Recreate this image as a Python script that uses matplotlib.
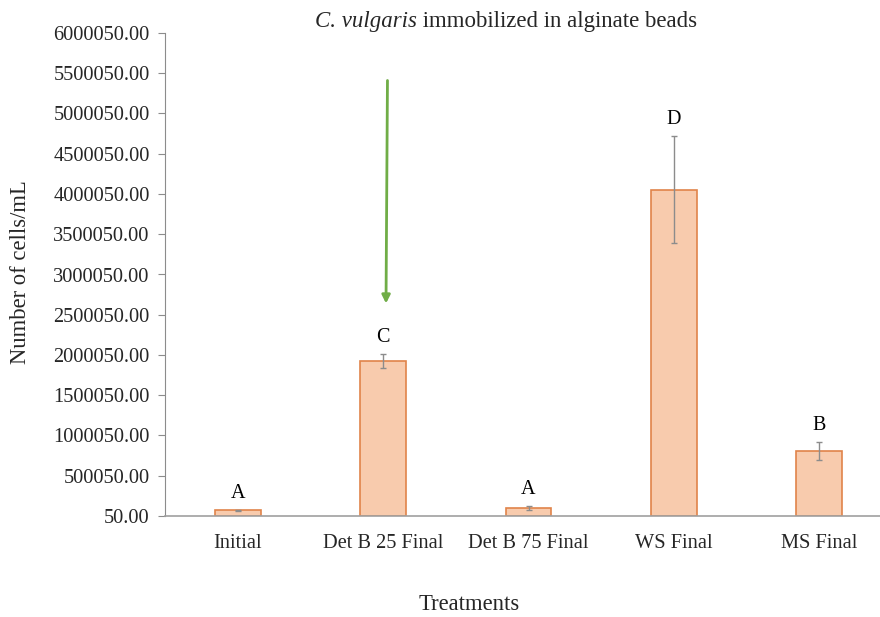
import matplotlib
matplotlib.use("Agg")
import matplotlib.pyplot as plt
import numpy as np
from matplotlib.offsetbox import TextArea, HPacker, AnchoredOffsetbox

categories = ["Initial", "Det B 25 Final", "Det B 75 Final", "WS Final", "MS Final"]
values = [70000, 1925000, 100000, 4055000, 805000]
errors = [8000, 85000, 25000, 665000, 112000]
letters = ["A", "C", "A", "D", "B"]
yticks = [50 + 500000 * i for i in range(13)]
ytick_labels = [f"{v:.2f}" for v in yticks]

W, H = 880, 617
plt.rcParams['font.family'] = ['Liberation Serif', 'DejaVu Serif']
txt = "#262626"
fig = plt.figure(figsize=(W / 100, H / 100), dpi=100)

left, right = 165, 880
top, bottom = 33, 516
ax = fig.add_axes([left / W, 1 - bottom / H, (right - left) / W, (bottom - top) / H])

spacing = 145.4
x = np.arange(len(categories))
ax.bar(x, values, width=0.316, color="#f8cbad", edgecolor="#e0844a", linewidth=1.2, zorder=2)
ax.errorbar(x, values, yerr=errors, fmt="none", ecolor="#8c8c8c", elinewidth=1.0,
            capsize=2.3, capthick=1.0, zorder=3)

for xi, v, e, l in zip(x, values, errors, letters):
    ax.annotate(l, (xi, v + e), xytext=(0, 5), textcoords="offset points",
                ha="center", va="bottom", fontsize=14.5, color="black")

ax.set_xlim(-0.5, -0.5 + (right - left) / spacing)
ax.set_ylim(50, 6000050)
ax.set_yticks(yticks)
ax.set_yticklabels(ytick_labels, fontsize=14.7, color=txt)
ax.set_xticks(x)
ax.set_xticklabels(categories, fontsize=14.7, color=txt)
ax.tick_params(axis="x", length=0, pad=13)
ax.tick_params(axis="y", length=5, color="#8c8c8c", pad=6)

for s in ["top", "right"]:
    ax.spines[s].set_visible(False)
ax.spines["left"].set_color("#8c8c8c")
ax.spines["bottom"].set_color("#a0a0a0")
ax.spines["bottom"].set_linewidth(1.2)

# green arrow
ax.annotate("", xy=(1.02, 2640000), xytext=(1.03, 5410000),
            arrowprops=dict(arrowstyle="-|>", color="#70ad47", lw=2, mutation_scale=12,
                            shrinkA=0, shrinkB=0))

ta1 = TextArea("C. vulgaris", textprops=dict(fontsize=16.5, style="italic", color=txt))
ta2 = TextArea(" immobilized in alginate beads", textprops=dict(fontsize=16.5, color=txt))
box = HPacker(children=[ta1, ta2], align="baseline", pad=0, sep=0)
ab = AnchoredOffsetbox(loc="center", child=box, frameon=False,
                       bbox_to_anchor=(506 / W, 1 - 22 / H), bbox_transform=fig.transFigure,
                       borderpad=0, pad=0)
fig.add_artist(ab)

fig.text(21 / W, 1 - 272 / H, "Number of cells/mL", rotation=90, ha="center", va="center",
         fontsize=16.3, color=txt)
fig.text(469 / W, 1 - 605 / H, "Treatments", ha="center", va="center", fontsize=16.3, color=txt)

fig.savefig("out.png", dpi=100)
